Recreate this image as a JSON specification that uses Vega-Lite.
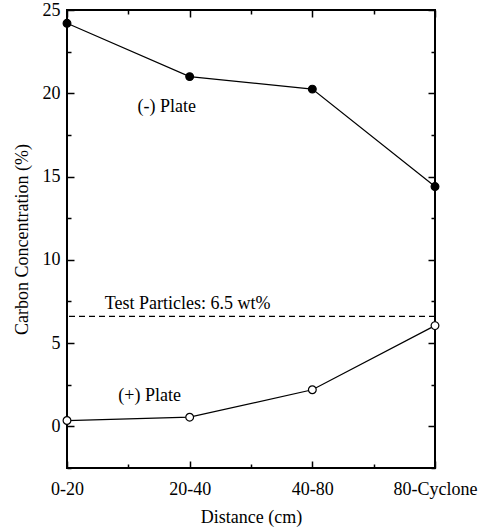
{
  "$schema": "https://vega.github.io/schema/vega-lite/v6.json",
  "autosize": {"type": "none"},
  "padding": {"left": 67, "top": 10, "right": 54, "bottom": 61},
  "width": 368,
  "height": 458,
  "background": "white",
  "config": {
    "view": {"stroke": "black", "strokeWidth": 2},
    "font": "'Liberation Serif', 'DejaVu Serif', serif",
    "axis": {
      "domain": false, "grid": false,
      "labelFont": "'Liberation Serif', 'DejaVu Serif', serif", "titleFont": "'Liberation Serif', 'DejaVu Serif', serif",
      "labelFontSize": 18, "titleFontSize": 18,
      "labelColor": "black", "titleColor": "black", "tickColor": "black",
      "titleFontWeight": "normal", "tickWidth": 1.5
    }
  },
  "datasets": {
    "carbon": [
      {"distance": "0-20", "plate": "(-) Plate", "carbon": 24.2},
      {"distance": "20-40", "plate": "(-) Plate", "carbon": 21.0},
      {"distance": "40-80", "plate": "(-) Plate", "carbon": 20.25},
      {"distance": "80-Cyclone", "plate": "(-) Plate", "carbon": 14.4},
      {"distance": "0-20", "plate": "(+) Plate", "carbon": 0.35},
      {"distance": "20-40", "plate": "(+) Plate", "carbon": 0.55},
      {"distance": "40-80", "plate": "(+) Plate", "carbon": 2.2},
      {"distance": "80-Cyclone", "plate": "(+) Plate", "carbon": 6.05}
    ],
    "reference": [{"label": "Test Particles: 6.5 wt%", "carbon": 6.6}],
    "labels": [
      {"label": "Test Particles: 6.5 wt%", "distance": "20-40", "carbon": 7.05},
      {"label": "(-) Plate", "distance": "20-40", "carbon": 18.9},
      {"label": "(+) Plate", "distance": "20-40", "carbon": 1.55}
    ]
  },
  "resolve": {"axis": {"x": "independent", "y": "independent"}},
  "layer": [
    {
      "data": {"name": "carbon"},
      "mark": {"type": "line", "color": "black", "strokeWidth": 1.2},
      "encoding": {
        "x": {"field": "distance", "type": "ordinal", "sort": null,
              "scale": {"type": "point", "padding": 0, "domain": ["0-20", "20-40", "40-80", "80-Cyclone"]},
              "axis": {"orient": "bottom", "title": "Distance (cm)", "labelAngle": 0, "tickSize": 7, "offset": -7, "labelPadding": 12, "titlePadding": 10, "labelFlush": false}},
        "y": {"field": "carbon", "type": "quantitative",
              "scale": {"domain": [-2.5, 25], "nice": false, "zero": false},
              "axis": {"orient": "left", "title": "Carbon Concentration (%)", "values": [0, 5, 10, 15, 20, 25], "tickSize": 7, "offset": -7, "labelPadding": 7, "titlePadding": 11}},
        "detail": {"field": "plate"}
      }
    },
    {
      "data": {"name": "carbon"},
      "mark": {"type": "point", "shape": "circle", "size": 60, "stroke": "black", "strokeWidth": 1.2, "opacity": 1},
      "encoding": {
        "x": {"field": "distance", "type": "ordinal", "sort": null,
              "axis": {"orient": "top", "title": null, "labels": false, "tickSize": 7, "offset": -7}},
        "y": {"field": "carbon", "type": "quantitative",
              "axis": {"orient": "right", "title": null, "labels": false, "values": [0, 5, 10, 15, 20, 25], "tickSize": 7, "offset": -7}},
        "fill": {"field": "plate", "type": "nominal",
                 "scale": {"domain": ["(-) Plate", "(+) Plate"], "range": ["black", "white"]}, "legend": null}
      }
    },
    {
      "data": {"name": "reference"},
      "mark": {"type": "rule", "color": "black", "strokeWidth": 1.2, "strokeDash": [6, 4]},
      "encoding": {
        "y": {"field": "carbon", "type": "quantitative", "axis": null}
      }
    },
    {
      "data": {"name": "labels"},
      "transform": [{"filter": "datum.label === 'Test Particles: 6.5 wt%'"}],
      "mark": {"type": "text", "fontSize": 18, "align": "center", "baseline": "alphabetic", "dx": -2, "color": "black"},
      "encoding": {
        "x": {"field": "distance", "type": "ordinal", "sort": null,
              "axis": {"orient": "bottom", "title": null, "labels": false, "values": ["0-20", "20-40", "40-80"], "tickOffset": 61.33, "tickSize": 4, "offset": -4}},
        "y": {"field": "carbon", "type": "quantitative", "axis": null},
        "text": {"field": "label"}
      }
    },
    {
      "data": {"name": "labels"},
      "transform": [{"filter": "datum.label === '(-) Plate'"}],
      "mark": {"type": "text", "fontSize": 18, "align": "center", "baseline": "alphabetic", "dx": -23, "color": "black"},
      "encoding": {
        "x": {"field": "distance", "type": "ordinal", "sort": null,
              "axis": {"orient": "top", "title": null, "labels": false, "values": ["0-20", "20-40", "40-80"], "tickOffset": 61.33, "tickSize": 4, "offset": -4}},
        "y": {"field": "carbon", "type": "quantitative",
              "axis": {"orient": "left", "title": null, "labels": false, "values": [-2.5, 2.5, 7.5, 12.5, 17.5, 22.5], "tickSize": 4, "offset": -4}},
        "text": {"field": "label"}
      }
    },
    {
      "data": {"name": "labels"},
      "transform": [{"filter": "datum.label === '(+) Plate'"}],
      "mark": {"type": "text", "fontSize": 18, "align": "center", "baseline": "alphabetic", "dx": -40, "color": "black"},
      "encoding": {
        "x": {"field": "distance", "type": "ordinal", "sort": null, "axis": null},
        "y": {"field": "carbon", "type": "quantitative",
              "axis": {"orient": "right", "title": null, "labels": false, "values": [-2.5, 2.5, 7.5, 12.5, 17.5, 22.5], "tickSize": 4, "offset": -4}},
        "text": {"field": "label"}
      }
    }
  ]
}
